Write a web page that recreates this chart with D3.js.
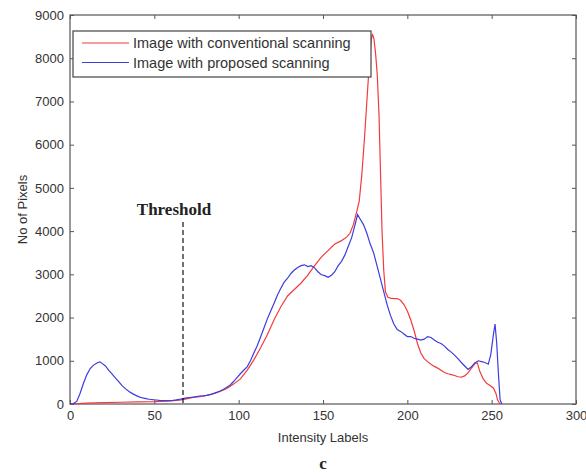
<!DOCTYPE html>
<html><head><meta charset="utf-8">
<script src="https://cdn.jsdelivr.net/npm/d3@7"></script>
<style>body{margin:0;background:#fff}svg{display:block}</style>
</head><body>
<script>
const xTicks = [0,50,100,150,200,250,300];
const yTicks = [0,1000,2000,3000,4000,5000,6000,7000,8000,9000];
const seriesNames = ["Image with conventional scanning","Image with proposed scanning"];
const thresholdValue = 67;

const redX = [0,5,10,20,30,40,50,60,65,69,73,77,81,85,89,93,97,101,105,109,113,117,121,125,129,133,137,141,145,149,153,157,161,164,166,168,170,171.5,173,174.5,176,177.5,178.5,179.3,180.2,181.2,182.2,183.2,184.2,185,186,187,188.5,190,192,194,196,198,200,202,204,206,208,210,212,214,216,218,220,222,224,226,228,230,232,234,236,238,240,241.5,243,245,247,249,251,252.5,253.5,255];
const redY = [0,10,20,30,40,50,55,70,90,120,150,170,200,240,290,360,460,580,780,1020,1300,1600,1950,2250,2500,2650,2800,2980,3200,3400,3550,3700,3780,3860,3950,4150,4450,4700,5300,6100,7000,7900,8400,8560,8450,8100,7600,6700,5200,4000,3100,2600,2470,2450,2440,2440,2400,2300,2150,1950,1700,1400,1180,1050,980,920,870,830,780,730,700,680,660,630,620,650,720,830,930,950,750,580,480,430,370,250,90,0];

const blueX = [0,2,4,6,8,10,12,14,16,17.8,19,21,23,25,27,29,31,33,35,37,39,41,43,45,47,49,51,53,55,57,59,61,63,65,67,69,71,73,75,77,79,81,83,85,87,89,91,93,95,97,99,101,103,105,107,109,111,113,115,117,119,121,123,125,127,129,131,133,135,137,139,141,143,145,147,149,151,153,155,157,159,161,163,165,167,169,170.5,172,174,176,178,180,182,184,186,188,190,192,194,196,198,200,202,204,206,208,210,212,214,216,218,220,222,224,226,228,230,232,234,236,238,240,242,244,246,248,249.5,251,252,253,254,255,256];
const blueY = [0,10,60,250,480,680,820,900,950,975,940,880,780,690,600,510,420,350,290,240,200,165,140,125,110,100,92,85,80,78,80,85,95,110,125,140,150,160,170,185,190,200,215,240,270,300,340,390,440,520,610,700,780,860,1000,1180,1350,1550,1760,1970,2150,2330,2520,2680,2820,2910,3020,3100,3160,3200,3220,3180,3200,3150,3060,2990,2970,2930,2980,3060,3200,3300,3450,3650,3850,4150,4380,4280,4150,3950,3700,3500,3200,2900,2600,2300,2050,1850,1720,1680,1620,1560,1560,1520,1500,1480,1500,1560,1540,1480,1430,1400,1340,1260,1200,1130,1050,960,880,800,860,950,1000,980,960,920,1150,1600,1850,1400,700,100,0];

const W = 586, H = 474;
const L = 70, R = 576, T = 15, B = 404;
const svg = d3.select("body").append("svg").attr("width", W).attr("height", H);
const x = d3.scaleLinear().domain([0,300]).range([L,R]);
const y = d3.scaleLinear().domain([0,9000]).range([B,T]);
const font = "'Liberation Sans', Arial, sans-serif";
const axisCol = "#555";
const fmt = d3.format("d");

// frame
svg.append("rect").attr("x",L).attr("y",T).attr("width",R-L).attr("height",B-T)
  .attr("fill","none").attr("stroke",axisCol).attr("stroke-width",1.2);

function styleAxis(g){
  g.select(".domain").remove();
  g.selectAll(".tick line").attr("stroke",axisCol);
  g.selectAll(".tick text").attr("fill","#333").attr("font-family",font).attr("font-size",13);
}
// bottom axis (ticks inward)
svg.append("g").attr("transform",`translate(0,${B})`)
  .call(d3.axisBottom(x).tickValues(xTicks).tickFormat(fmt).tickSizeInner(-4).tickSizeOuter(0).tickPadding(7))
  .call(styleAxis);
svg.append("g").attr("transform",`translate(0,${T})`)
  .call(d3.axisTop(x).tickValues(xTicks).tickSizeInner(-4).tickSizeOuter(0).tickFormat(""))
  .call(styleAxis);
svg.append("g").attr("transform",`translate(${L},0)`)
  .call(d3.axisLeft(y).tickValues(yTicks).tickFormat(fmt).tickSizeInner(-4).tickSizeOuter(0).tickPadding(6))
  .call(styleAxis);
svg.append("g").attr("transform",`translate(${R},0)`)
  .call(d3.axisRight(y).tickValues(yTicks).tickSizeInner(-4).tickSizeOuter(0).tickFormat(""))
  .call(styleAxis);

// lines
const line = d3.line().x(d=>x(d[0])).y(d=>y(d[1]));
const redData = redX.map((v,i)=>[v,redY[i]]);
const blueData = blueX.map((v,i)=>[v,blueY[i]]);
const colors = ["#f03c3c","#3c3ce0"];
svg.append("path").datum(redData).attr("d",line).attr("fill","none").attr("stroke",colors[0]).attr("stroke-width",1.2);
svg.append("path").datum(blueData).attr("d",line).attr("fill","none").attr("stroke",colors[1]).attr("stroke-width",1.2);

// threshold
svg.append("line").attr("x1",x(thresholdValue)).attr("x2",x(thresholdValue))
  .attr("y1",222).attr("y2",B).attr("stroke","#111").attr("stroke-width",1.2).attr("stroke-dasharray","5,3");
svg.append("text").attr("x",x(thresholdValue)-9).attr("y",215).attr("text-anchor","middle")
  .attr("font-family","'Liberation Serif','Times New Roman',serif").attr("font-weight","bold")
  .attr("font-size",17).attr("fill","#222").text("Threshold");

// legend
const lg = svg.append("g");
lg.append("rect").attr("x",73).attr("y",31).attr("width",298).attr("height",46)
  .attr("fill","#fff").attr("stroke","#444").attr("stroke-width",1.2);
seriesNames.forEach((n,i)=>{
  const yy = 43 + i*19.5;
  lg.append("line").attr("x1",82).attr("x2",129).attr("y1",yy).attr("y2",yy).attr("stroke",colors[i]).attr("stroke-width",1.2);
  lg.append("text").attr("x",133).attr("y",yy+5).attr("font-family",font).attr("font-size",14.5)
    .attr("fill","#333").text(n);
});

// axis labels
svg.append("text").attr("x",(L+R)/2).attr("y",442).attr("text-anchor","middle")
  .attr("font-family",font).attr("font-size",13).attr("fill","#333").text("Intensity Labels");
svg.append("text").attr("transform",`translate(27,${(T+B)/2}) rotate(-90)`).attr("text-anchor","middle")
  .attr("font-family",font).attr("font-size",13).attr("fill","#333").text("No of Pixels");
svg.append("text").attr("x",(L+R)/2).attr("y",469).attr("text-anchor","middle")
  .attr("font-family","'Liberation Serif','Times New Roman',serif").attr("font-weight","bold")
  .attr("font-size",17).attr("fill","#222").text("c");
</script>
</body></html>
